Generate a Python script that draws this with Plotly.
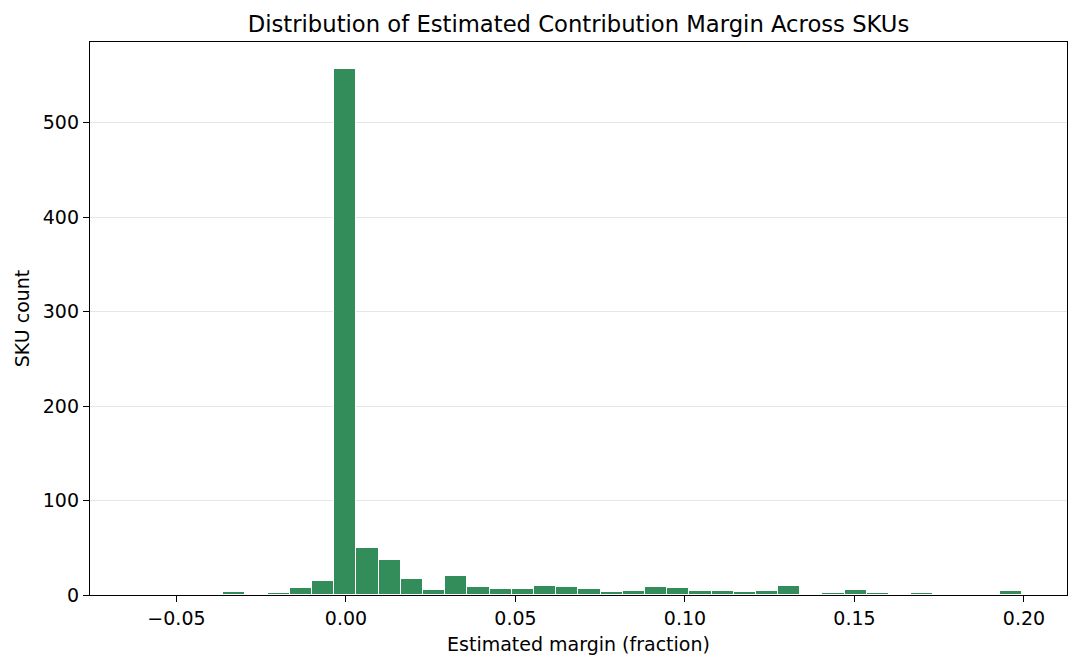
import numpy as np
import plotly.graph_objects as go

# histogram bins (margin fraction) and SKU counts per bin
bin_start = -0.0624
bin_end = 0.1995
sku_counts = [0, 0, 0, 0, 3, 0, 2, 7, 15, 557,
              50, 37, 17, 5, 20, 9, 6, 6, 10, 9,
              6, 3, 4, 9, 7, 4, 4, 3, 4, 10,
              0, 2, 5, 2, 0, 2, 0, 0, 0, 4]
x_ticks = [-0.05, 0.00, 0.05, 0.10, 0.15, 0.20]
y_ticks = [0, 100, 200, 300, 400, 500]

edges = np.linspace(bin_start, bin_end, len(sku_counts) + 1)
centers = (edges[:-1] + edges[1:]) / 2
width = edges[1] - edges[0]

fig = go.Figure()
fig.add_trace(go.Bar(
    x=centers, y=sku_counts, width=width,
    marker=dict(color='#2E8B57', opacity=0.98,
                line=dict(color='white', width=1)),
    showlegend=False,
))

axis_font = dict(family='DejaVu Sans', size=19, color='black')
fig.update_layout(
    width=1080, height=668,
    margin=dict(l=90, r=13, t=42, b=73),
    plot_bgcolor='white', paper_bgcolor='white',
    font=dict(family='DejaVu Sans', color='black'),
    bargap=0,
    title=dict(text='Distribution of Estimated Contribution Margin Across SKUs',
               x=0.5, xanchor='center', xref='paper',
               y=1 - 24 / 668, yanchor='middle', yref='container',
               font=dict(family='DejaVu Sans', size=22.7, color='black')),
    xaxis=dict(range=[-0.0755, 0.2127], tickvals=x_ticks, tickformat='.2f',
               ticks='outside', ticklen=6, tickwidth=1.3, tickcolor='black',
               showline=True, linecolor='black', linewidth=1.3, mirror=True,
               showgrid=False, zeroline=False, tickfont=axis_font,
               title=dict(text='Estimated margin (fraction)', font=axis_font,
                          standoff=9)),
    yaxis=dict(range=[0, 585.5], tickvals=y_ticks,
               ticks='outside', ticklen=6, tickwidth=1.3, tickcolor='black',
               showline=True, linecolor='black', linewidth=1.3, mirror=True,
               showgrid=True, gridcolor='#e6e6e6', gridwidth=1,
               zeroline=False, tickfont=axis_font,
               title=dict(text='SKU count', font=axis_font, standoff=8)),
)

# page has a default 8px body margin; remove it so the figure sits at 0,0
fig.write_html('out.html', config={'displayModeBar': False},
               post_script="document.body.style.margin='0';")
